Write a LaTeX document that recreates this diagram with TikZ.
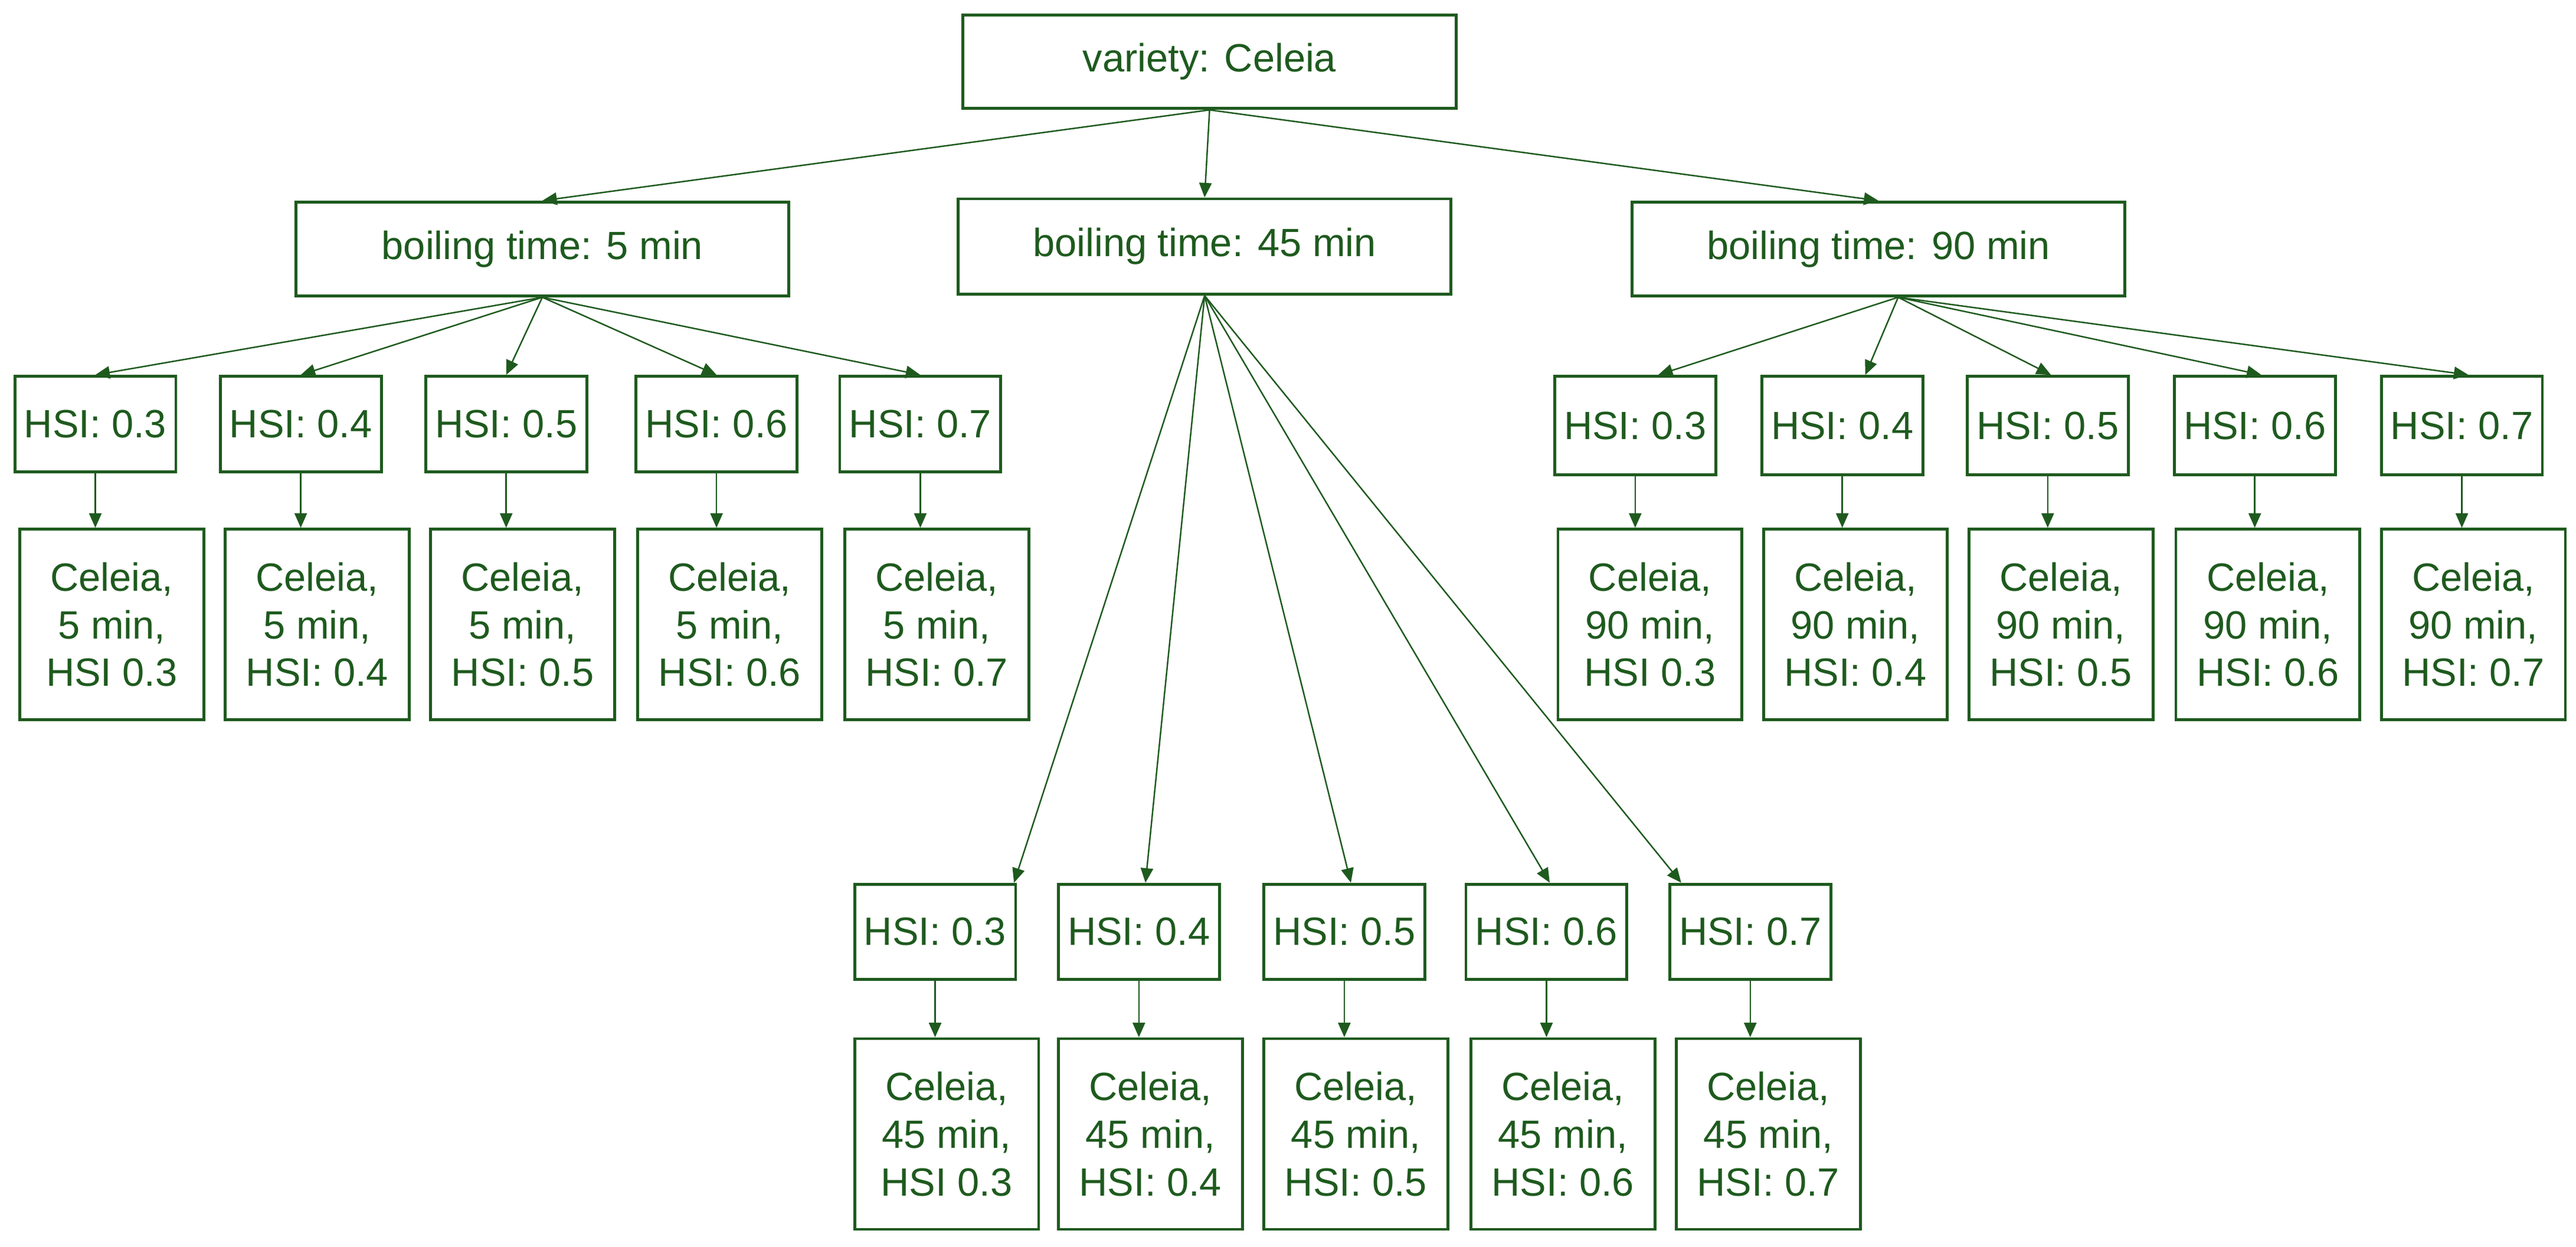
\documentclass[tikz,border=0pt]{standalone}
\usepackage{fontspec}
\setmainfont{Liberation Sans}
\usetikzlibrary{arrows.meta,calc}
\definecolor{dg}{HTML}{1E5A1E}
\tikzset{
 bx/.style={draw=dg,line width=1.4pt,text=dg,inner sep=0pt,align=center,font=\fontsize{19}{23}\selectfont},
 ed/.style={draw=dg,line width=0.7pt,-{Triangle[length=7pt,width=6pt]}}
}
\newcommand{\mybox}[6]{\node[bx,minimum width={(#3-#2)*0.02784cm},minimum height={(#5-#4)*0.02784cm}] (#1) at ({(#2+#3)/2*0.02784},{-(#4+#5)/2*0.02784}) {#6};}
\begin{document}
\begin{tikzpicture}
\useasboundingbox (0,0) rectangle (43.65,-21.12);
\mybox{root}{586}{886}{9}{66}{variety: Celeia}
\mybox{a}{180}{480}{123}{180}{boiling time: 5 min}
\mybox{b}{583}{883}{121}{179}{boiling time: 45 min}
\mybox{c}{993}{1293}{123}{180}{boiling time: 90 min}
\coordinate (cs) at ($(c.south)+(12*0.02784,0)$);
\foreach \p in {a,b,c} \draw[ed] (root.south) -- (\p.north);
\foreach \i/\x/\lx/\t in {1/9/12/HSI 0.3,2/134/137/HSI: 0.4,3/259/262/HSI: 0.5,4/387/388/HSI: 0.6,5/511/514/HSI: 0.7}{
 \pgfmathsetmacro\xa{\x+98}\pgfmathsetmacro\lxa{\lx+112}
 \mybox{ah\i}{\x}{\xa}{229}{287}{HSI: 0.\the\numexpr\i+2\relax}
 \mybox{al\i}{\lx}{\lxa}{322}{438}{Celeia,\\5 min,\\\t}
 \draw[ed] (a.south) -- (ah\i.north);
 \draw[ed] (ah\i.south) -- (ah\i.south |- al\i.north);
}
\foreach \i/\x/\lx/\t/\dx in {1/946/948/HSI 0.3/14,2/1072/1073/HSI: 0.4/14,3/1197/1198/HSI: 0.5/2,4/1323/1324/HSI: 0.6/4,5/1449/1449/HSI: 0.7/4}{
 \pgfmathsetmacro\xa{\x+98}\pgfmathsetmacro\lxa{\lx+112}
 \mybox{ch\i}{\x}{\xa}{229}{289}{HSI: 0.\the\numexpr\i+2\relax}
 \mybox{cl\i}{\lx}{\lxa}{322}{438}{Celeia,\\90 min,\\\t}
 \coordinate (ct\i) at ($(ch\i.north)+(\dx*0.02784,0)$);
 \draw[ed] (cs) -- (ct\i);
 \draw[ed] (ch\i.south) -- (ch\i.south |- cl\i.north);
}
\foreach \i/\x/\lx/\t/\dx in {1/520/520/HSI 0.3/48,2/644/644/HSI: 0.4/4,3/769/769/HSI: 0.5/4,4/892/895/HSI: 0.6/2,5/1016/1020/HSI: 0.7/-42}{
 \pgfmathsetmacro\xa{\x+98}\pgfmathsetmacro\lxa{\lx+112}
 \mybox{bh\i}{\x}{\xa}{538}{596}{HSI: 0.\the\numexpr\i+2\relax}
 \mybox{bl\i}{\lx}{\lxa}{632}{748}{Celeia,\\45 min,\\\t}
 \coordinate (bt\i) at ($(bh\i.north)+(\dx*0.02784,0)$);
 \draw[ed] (b.south) -- (bt\i);
 \draw[ed] (bh\i.south) -- (bh\i.south |- bl\i.north);
}
\end{tikzpicture}
\end{document}
